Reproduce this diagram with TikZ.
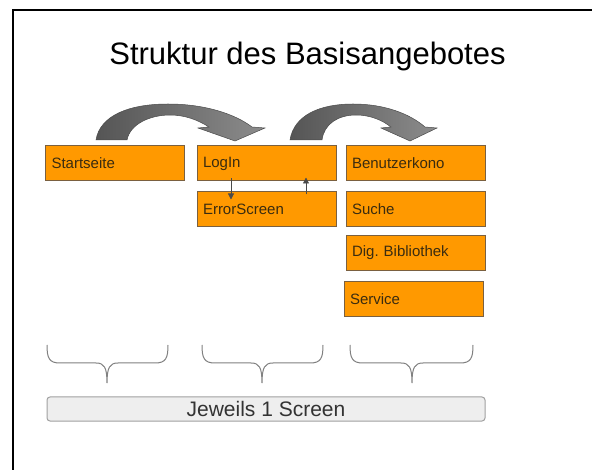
\documentclass[tikz,border=0pt]{standalone}
\usepackage{fontspec}
\setmainfont{Liberation Sans}
\usetikzlibrary{arrows.meta}
\frenchspacing
\definecolor{boxfill}{HTML}{FF9900}
\definecolor{boxline}{HTML}{7A6040}
\definecolor{boxtext}{HTML}{3A2C10}
\definecolor{arrdark}{HTML}{555555}
\definecolor{arrlight}{HTML}{8C8C8C}
\definecolor{arrline}{HTML}{4A4A4A}
\definecolor{bracecol}{HTML}{808080}
\definecolor{barfill}{HTML}{EEEEEE}
\definecolor{barline}{HTML}{A0A0A0}
\definecolor{bartext}{HTML}{333333}
\begin{document}
\begin{tikzpicture}[x=1pt,y=-1pt,
  screenbox/.style={draw=boxline, fill=boxfill, line width=1pt,
    text width=127pt, inner xsep=6pt, inner ysep=0pt, minimum height=35pt,
    align=left, text=boxtext, font=\fontsize{15}{17}\selectfont},
  smallarrow/.style={draw=arrline, line width=0.8pt, -{Triangle[length=6pt,width=6pt]}},
  bigarrow/.style={left color=arrdark, right color=arrlight, draw=arrline, line width=0.5pt},
  bracestyle/.style={draw=bracecol, line width=1pt}]
\useasboundingbox (0,0) rectangle (592,470);
\fill[white] (0,0) rectangle (592,470);
% frame
\draw[line width=2.5pt, line join=miter] (13,470) -- (13,10) -- (592,10);
% title
\node[anchor=base, font=\fontsize{31}{36}\selectfont] (title) at (307.5,65) {Struktur des Basisangebotes};
% boxes
\node[screenbox] (start) at (115,163.5) {Startseite};
\node[screenbox] (login) at (266.5,163.5) {LogIn};
\node[screenbox] (error) at (266.5,209.5) {ErrorScreen};
\node[screenbox] (konto) at (415.5,163.5) {Benutzerkono};
\node[screenbox] (suche) at (415.5,209.5) {Suche};
\node[screenbox] (bib) at (415.5,253) {Dig.\ Bibliothek};
\node[screenbox] (service) at (413.5,299.5) {Service};
% small arrows
\draw[smallarrow] ([xshift=-35.5pt,yshift=3pt]login.south) -- ([xshift=-35.5pt,yshift=-8pt]error.north);
\draw[smallarrow] ([xshift=39.5pt,yshift=-3pt]error.north) -- ([xshift=39.5pt,yshift=4pt]login.south);
% curved block arrows
\shadedraw[bigarrow] (96,140) .. controls (100,115) and (130,104) .. (168,104)
  .. controls (205,104) and (235,114) .. (252,127) -- (265,128) -- (235,141) -- (198,128) -- (209,127)
  .. controls (198,120) and (185,115) .. (170,115) .. controls (150,115) and (130,124) .. (127,140) -- cycle;
\shadedraw[bigarrow] (290,140) .. controls (294,115) and (320,104) .. (353,104)
  .. controls (385,104) and (410,114) .. (425,127) -- (437,128) -- (410,141) -- (381,128) -- (391,127)
  .. controls (382,120) and (370,115) .. (356,115) .. controls (338,115) and (324,124) .. (322,140) -- cycle;
% braces
\draw[bracestyle] (47,345) .. controls (47,358) and (49,363) .. (60,363) -- (96,363)
  .. controls (104,363) and (107,367) .. (107,383)
  .. controls (107,367) and (110,363) .. (118,363) -- (155,363)
  .. controls (166,363) and (168,358) .. (168,345);
\draw[bracestyle] (202,345) .. controls (202,358) and (204,363) .. (215,363) -- (251,363)
  .. controls (259,363) and (262,367) .. (262,383)
  .. controls (262,367) and (265,363) .. (273,363) -- (310,363)
  .. controls (321,363) and (323,358) .. (323,345);
\draw[bracestyle] (350,345) .. controls (350,358) and (352,363) .. (363,363) -- (401,363)
  .. controls (409,363) and (412,367) .. (412,383)
  .. controls (412,367) and (415,363) .. (423,363) -- (460,363)
  .. controls (471,363) and (473,358) .. (473,345);
% bottom bar
\node[draw=barline, fill=barfill, line width=1pt, rounded corners=3pt, minimum width=438pt,
  minimum height=24pt, inner sep=0pt, text=bartext, font=\fontsize{21}{24}\selectfont]
  (bar) at (266,409) {Jeweils 1 Screen};
\end{tikzpicture}
\end{document}
